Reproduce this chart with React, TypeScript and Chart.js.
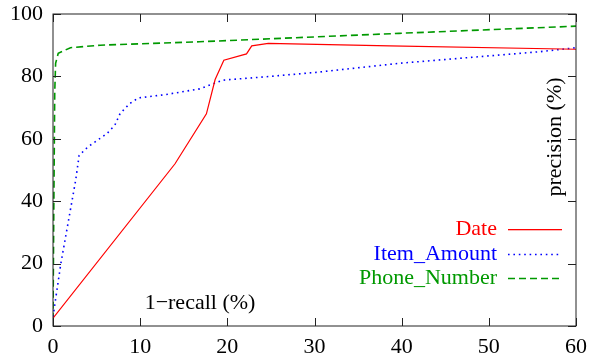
import React, { useEffect, useRef } from "react";
import { Chart, registerables } from "chart.js";

Chart.register(...registerables);

const xTicks = [0, 10, 20, 30, 40, 50, 60];
const yTicks = [0, 20, 40, 60, 80, 100];

const seriesNames = ["Date", "Item_Amount", "Phone_Number"];
const seriesColors = ["#ff0000", "#0000ff", "#009900"];

const dateX = [0, 14, 17.6, 18.6, 19.6, 22.2, 22.8, 24.7, 38.6, 60];
const dateY = [2.5, 52, 68, 79, 85.2, 87.2, 89.8, 90.6, 89.8, 88.7];

const itemX = [0, 0.9, 2.6, 3.0, 4.0, 6.2, 7.1, 7.7, 8.8, 9.8, 13, 16.8, 19.5, 24.5, 30.2, 39.7, 55.8, 60];
const itemY = [3, 20, 46.7, 54.7, 57.4, 61.7, 64.4, 68.1, 71.3, 73.1, 74.2, 76, 78.8, 79.9, 81.3, 84.2, 87.9, 89.2];

const phoneX = [0, 0.1, 0.2, 0.3, 0.6, 2, 5.4, 16.8, 39.7, 60];
const phoneY = [2, 40, 75, 84.2, 87.4, 89.2, 90, 91.1, 93.8, 96.1];

const xTitle = "1\u2212recall (%)";
const yTitle = "precision (%)";

const FONT = "'Liberation Serif', 'Times New Roman', serif";
const FS = 22;

const dashes = [[], [1.6, 3.8], [7, 4]];
const widths = [1.2, 1.6, 1.6];

function pts(xs: number[], ys: number[]) {
  return xs.map((x, i) => ({ x, y: ys[i] }));
}

const framePlugin = {
  id: "gnuframe",
  afterDraw(chart: any) {
    const { ctx, chartArea: a, scales } = chart;
    const xs = scales.x;
    const ys = scales.y;
    ctx.save();
    ctx.strokeStyle = "#222";
    ctx.lineWidth = 1;
    ctx.setLineDash([]);
    ctx.strokeRect(a.left, a.top, a.right - a.left, a.bottom - a.top);
    const tl = 8;
    ctx.beginPath();
    xTicks.forEach((v) => {
      const px = Math.round(xs.getPixelForValue(v)) + 0.5;
      ctx.moveTo(px, a.bottom);
      ctx.lineTo(px, a.bottom - tl);
      ctx.moveTo(px, a.top);
      ctx.lineTo(px, a.top + tl);
    });
    yTicks.forEach((v) => {
      const py = Math.round(ys.getPixelForValue(v)) + 0.5;
      ctx.moveTo(a.left, py);
      ctx.lineTo(a.left + tl, py);
      ctx.moveTo(a.right, py);
      ctx.lineTo(a.right - tl, py);
    });
    ctx.stroke();

    ctx.fillStyle = "#000";
    ctx.font = `${FS}px ${FONT}`;
    ctx.textAlign = "center";
    ctx.textBaseline = "middle";
    ctx.fillText(xTitle, 200, 303);
    ctx.save();
    ctx.translate(555, 137);
    ctx.rotate(-Math.PI / 2);
    ctx.fillText(yTitle, 0, 0);
    ctx.restore();

    const rows = [229, 254, 278];
    seriesNames.forEach((n, i) => {
      ctx.fillStyle = seriesColors[i];
      ctx.textAlign = "right";
      ctx.textBaseline = "middle";
      ctx.fillText(n, 497, rows[i]);
      if (i === 0) {
        ctx.fillRect(508, rows[i], 54, 1.3);
      } else {
        ctx.strokeStyle = seriesColors[i];
        ctx.lineWidth = widths[i];
        ctx.setLineDash(dashes[i]);
        ctx.beginPath();
        ctx.moveTo(508, rows[i] + 0.5);
        ctx.lineTo(562, rows[i] + 0.5);
        ctx.stroke();
      }
    });
    ctx.restore();
  },
};

export default function App() {
  const ref = useRef<HTMLCanvasElement>(null);
  useEffect(() => {
    document.body.style.margin = "0";
    const all = [pts(dateX, dateY), pts(itemX, itemY), pts(phoneX, phoneY)];
    const chart = new Chart(ref.current!, {
      type: "scatter",
      data: {
        datasets: all.map((d, i) => ({
          label: seriesNames[i],
          data: d,
          showLine: true,
          pointRadius: 0,
          borderColor: seriesColors[i],
          borderWidth: widths[i],
          borderDash: dashes[i],
          tension: 0,
        })),
      },
      options: {
        animation: false,
        responsive: false,
        maintainAspectRatio: false,
        layout: { padding: { top: 14, right: 15, left: 0, bottom: 0 } },
        plugins: { legend: { display: false }, tooltip: { enabled: false } },
        scales: {
          x: {
            type: "linear",
            min: 0,
            max: 60,
            grid: { display: false, drawTicks: false },
            border: { display: false },
            ticks: {
              stepSize: 10,
              padding: 8,
              color: "#000",
              font: { family: FONT, size: FS },
              maxRotation: 0,
            },
            afterFit: (s: any) => {
              s.height = 34;
              s.paddingLeft = 0;
              s.paddingRight = 0;
            },
          },
          y: {
            type: "linear",
            min: 0,
            max: 100,
            grid: { display: false, drawTicks: false },
            border: { display: false },
            ticks: {
              stepSize: 20,
              padding: 10,
              color: "#000",
              font: { family: FONT, size: FS },
            },
            afterFit: (s: any) => {
              s.width = 53;
              s.paddingTop = 0;
              s.paddingBottom = 0;
            },
          },
        },
      },
      plugins: [framePlugin],
    });
    return () => chart.destroy();
  }, []);
  return (
    <div style={{ width: 591, height: 360 }}>
      <canvas ref={ref} width={591} height={360} style={{ display: "block" }} />
    </div>
  );
}
